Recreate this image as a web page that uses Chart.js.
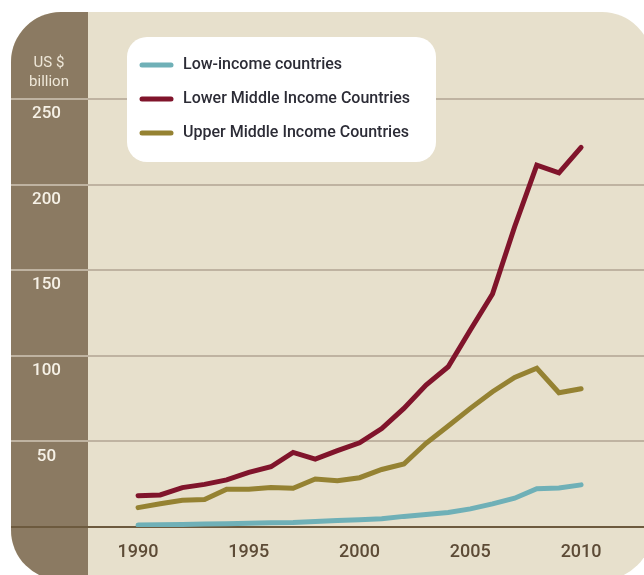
<!DOCTYPE html>
<html lang="en">
<head>
<meta charset="utf-8">
<title>US $ billion by income group</title>
<script src="https://cdn.jsdelivr.net/npm/chart.js@4.4.1/dist/chart.umd.min.js"></script>
<style>
  html, body { margin: 0; padding: 0; background: #ffffff; }
  #graphique { display: block; }
</style>
</head>
<body>
<canvas id="graphique" width="644" height="575"></canvas>
<script>
// Données (US $ milliards)
const annees = [1990, 1991, 1992, 1993, 1994, 1995, 1996, 1997, 1998, 1999, 2000,
                2001, 2002, 2003, 2004, 2005, 2006, 2007, 2008, 2009, 2010];
const ticksAnnees = [1990, 1995, 2000, 2005, 2010];
const ticksValeurs = [0, 50, 100, 150, 200, 250];

const faibleRevenu = [1.2, 1.3, 1.5, 1.7, 1.9, 2.2, 2.5, 2.7, 3.2, 3.8, 4.3,
                      4.8, 6.2, 7.3, 8.5, 10.6, 13.5, 16.8, 22.4, 22.8, 24.6];
const revenuInterInf = [18.3, 18.7, 23.0, 24.9, 27.5, 31.9, 35.2, 43.6, 39.7, 44.6, 49.2,
                        57.5, 69.3, 82.9, 93.6, 115.1, 136.1, 175.4, 211.4, 206.9, 221.8];
const revenuInterSup = [11.3, 13.6, 15.6, 16.0, 22.0, 22.0, 23.0, 22.6, 28.0, 27.0, 28.8,
                        33.6, 36.8, 48.9, 59.0, 69.3, 79.0, 87.4, 92.7, 78.4, 80.8];

const libelles = ['Low-income countries', 'Lower Middle Income Countries', 'Upper Middle Income Countries'];
const uniteAxe = ['US $', 'billion'];

const couleurs = ['#6fb0b7', '#80142b', '#958232'];

// Fond arrondi + bande brune de l'axe
const fond = {
    id: 'fond',
    beforeDraw: (chart) => {
        const ctx = chart.ctx;
        ctx.save();
        ctx.fillStyle = '#ffffff';
        ctx.fillRect(0, 0, chart.width, chart.height);
        ctx.beginPath();
        ctx.roundRect(11, 12, 641, 568, 50);
        ctx.fillStyle = '#e7e0cc';
        ctx.fill();
        ctx.clip();
        ctx.fillStyle = '#8b7a62';
        ctx.fillRect(0, 0, chart.chartArea.left, chart.height);
        ctx.restore();

        // Unité de l'axe vertical
        ctx.save();
        ctx.fillStyle = '#eee7d8';
        ctx.font = '15px Roboto';
        ctx.textAlign = 'center';
        ctx.textBaseline = 'middle';
        uniteAxe.forEach((texte, i) => ctx.fillText(texte, 49, 63 + i * 19));
        ctx.restore();
    }
};

// Légende dans un cadre blanc
const legende = {
    id: 'legende',
    afterDraw: (chart) => {
        const ctx = chart.ctx;
        ctx.save();
        ctx.beginPath();
        ctx.roundRect(127, 37, 309, 125, 20);
        ctx.fillStyle = '#ffffff';
        ctx.fill();
        ctx.font = '500 16px Roboto';
        ctx.textBaseline = 'middle';
        chart.data.datasets.forEach((ds, i) => {
            const y = 65 + i * 34;
            ctx.beginPath();
            ctx.moveTo(142, y);
            ctx.lineTo(171, y);
            ctx.strokeStyle = ds.borderColor;
            ctx.lineWidth = 5;
            ctx.lineCap = 'round';
            ctx.stroke();
            ctx.fillStyle = '#2c2c36';
            ctx.fillText(ds.label, 183, y);
        });
        ctx.restore();
    }
};

const graphique = new Chart(document.getElementById('graphique'), {
    type: 'line',
    data: {
        labels: annees,
        datasets: [
            { label: libelles[0], data: faibleRevenu, borderColor: couleurs[0], backgroundColor: couleurs[0] },
            { label: libelles[1], data: revenuInterInf, borderColor: couleurs[1], backgroundColor: couleurs[1] },
            { label: libelles[2], data: revenuInterSup, borderColor: couleurs[2], backgroundColor: couleurs[2] }
        ]
    },
    options: {
        responsive: false,
        animation: false,
        layout: { padding: { top: 99, right: 0, bottom: 0, left: 0 } },
        plugins: {
            legend: { display: false },
            tooltip: { enabled: false }
        },
        elements: {
            point: { radius: 0 },
            line: { borderWidth: 5, borderCapStyle: 'round', borderJoinStyle: 'miter', tension: 0 }
        },
        scales: {
            x: {
                type: 'linear',
                min: 1987.74,
                max: 2012.84,
                afterBuildTicks: (axe) => { axe.ticks = ticksAnnees.map(v => ({ value: v })); },
                afterFit: (axe) => { axe.height = 48; },
                grid: { display: false },
                border: { display: false },
                ticks: {
                    padding: 7,
                    maxRotation: 0,
                    autoSkip: false,
                    color: '#5d4b36',
                    font: { family: 'Roboto', size: 18, weight: '500' },
                    callback: (v) => String(v)
                }
            },
            y: {
                min: 0,
                max: 250,
                afterBuildTicks: (axe) => { axe.ticks = ticksValeurs.map(v => ({ value: v })); },
                afterFit: (axe) => { axe.width = 88; },
                border: { display: false },
                grid: {
                    color: (c) => c.tick && c.tick.value === 0 ? '#6d5a3e' : '#bfb3a1',
                    lineWidth: 2,
                    tickLength: 77
                },
                ticks: {
                    padding: -50,
                    crossAlign: 'center',
                    labelOffset: 15,
                    color: '#f6f1e6',
                    font: { family: 'Roboto', size: 17, weight: '500' },
                    callback: (v) => v === 0 ? '' : String(v)
                }
            }
        }
    },
    plugins: [fond, legende]
});
</script>
</body>
</html>
